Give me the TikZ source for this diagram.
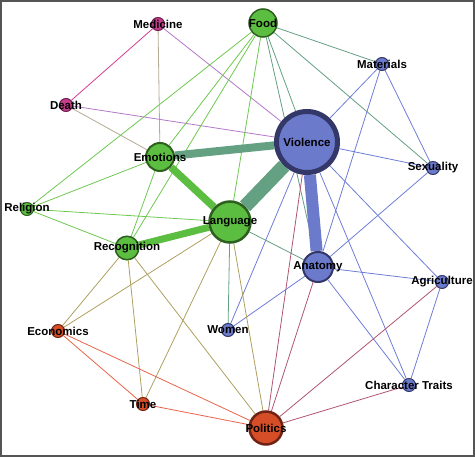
\documentclass[tikz,border=0pt]{standalone}
\usepackage{fontspec}
\setmainfont{Liberation Sans}
\usepackage{tikz}
\usetikzlibrary{backgrounds}
\definecolor{mygreen}{RGB}{92,190,64}
\definecolor{mygreendk}{RGB}{45,95,30}
\definecolor{myblue}{RGB}{108,122,204}
\definecolor{mybluedk}{RGB}{52,56,104}
\definecolor{myred}{RGB}{214,78,40}
\definecolor{myreddk}{RGB}{110,35,20}
\definecolor{mymag}{RGB}{196,62,140}
\definecolor{mymagdk}{RGB}{110,30,80}
\definecolor{myframe}{RGB}{85,85,85}
\definecolor{lngreen}{RGB}{110,200,80}
\definecolor{lnteal}{RGB}{100,160,130}
\definecolor{lnblue}{RGB}{110,125,215}
\definecolor{lntan}{RGB}{175,160,95}
\definecolor{lnred}{RGB}{232,100,75}
\definecolor{lnmaroon}{RGB}{175,85,110}
\definecolor{lnpurple}{RGB}{180,120,200}
\definecolor{lngray}{RGB}{180,170,150}
\definecolor{lnmag}{RGB}{215,60,145}
\tikzset{
  topic/.style={circle, inner sep=0pt, line width=1pt, minimum size=13pt},
  lbl/.style={font=\fontsize{11.5}{12}\selectfont\bfseries, text=black, inner sep=0pt},
  greennode/.style={topic, draw=mygreendk, fill=mygreen},
  bluenode/.style={topic, draw=mybluedk, fill=myblue},
  rednode/.style={topic, draw=myreddk, fill=myred},
  magnode/.style={topic, draw=mymagdk, fill=mymag},
  edge/.style={line width=0.8pt},
  greenedge/.style={edge, color=lngreen},
  tealedge/.style={edge, color=lnteal},
  blueedge/.style={edge, color=lnblue},
  tanedge/.style={edge, color=lntan},
  rededge/.style={edge, color=lnred},
  maroonedge/.style={edge, color=lnmaroon},
  purpleedge/.style={edge, color=lnpurple},
  grayedge/.style={edge, color=lngray},
  magedge/.style={edge, color=lnmag}
}
\begin{document}
\begin{tikzpicture}[x=1pt, y=-1pt]
  \useasboundingbox (0,0) rectangle (475,457);

  % Topic nodes
  \node[magnode, label={[lbl]center:Medicine}] (medicine) at (158,24) {};
  \node[magnode, label={[lbl]center:Death}] (death) at (66,105) {};
  \node[greennode, minimum size=28pt, line width=1.5pt, label={[lbl]center:Food}] (food) at (263,23) {};
  \node[bluenode, label={[lbl]center:Materials}] (materials) at (382,64) {};
  \node[greennode, minimum size=28pt, line width=2pt, label={[lbl]center:Emotions}] (emotions) at (160,157) {};
  \node[bluenode, minimum size=61pt, line width=5pt, label={[lbl]center:Violence}] (violence) at (307,142) {};
  \node[bluenode, label={[lbl]center:Sexuality}] (sexuality) at (433,168) {};
  \node[greennode, label={[lbl]center:Religion}] (religion) at (27,209) {};
  \node[greennode, minimum size=41pt, line width=2.5pt, label={[lbl]center:Language}] (language) at (230,222) {};
  \node[greennode, minimum size=23.5pt, line width=1.5pt, label={[lbl]center:Recognition}] (recognition) at (127,248) {};
  \node[bluenode, minimum size=30pt, line width=2pt, label={[lbl]center:Anatomy}] (anatomy) at (318,267) {};
  \node[bluenode, label={[lbl]center:Agriculture}] (agriculture) at (442,282) {};
  \node[rednode, label={[lbl]center:Economics}] (economics) at (58,331) {};
  \node[bluenode, label={[lbl]center:Women}] (women) at (228,330) {};
  \node[bluenode, label={[lbl]center:Character Traits}] (traits) at (409,385) {};
  \node[rednode, label={[lbl]center:Time}] (time) at (143,404) {};
  \node[rednode, minimum size=33pt, line width=2.5pt, label={[lbl]center:Politics}] (politics) at (266,428) {};

  \begin{scope}[on background layer]
    % Thin links
    \draw[magedge] (medicine) -- (death);
    \draw[grayedge] (medicine) -- (emotions);
    \draw[grayedge] (death) -- (emotions);
    \draw[purpleedge] (medicine) -- (violence);
    \draw[purpleedge] (death) -- (violence);
    \foreach \a/\b in {food/religion, food/emotions, food/recognition, food/language,
        religion/emotions, religion/language, religion/recognition, emotions/recognition}
      \draw[greenedge] (\a) -- (\b);
    \foreach \a/\b in {food/violence, food/anatomy, food/materials, food/sexuality,
        language/anatomy, language/women}
      \draw[tealedge] (\a) -- (\b);
    \foreach \a/\b in {violence/materials, violence/sexuality, violence/women,
        violence/agriculture, violence/traits, materials/sexuality, materials/anatomy,
        sexuality/anatomy, anatomy/women, anatomy/agriculture, anatomy/traits,
        agriculture/traits}
      \draw[blueedge] (\a) -- (\b);
    \foreach \a/\b in {recognition/economics, language/economics, recognition/time,
        language/time, recognition/politics, language/politics}
      \draw[tanedge] (\a) -- (\b);
    \foreach \a/\b in {economics/time, economics/politics, time/politics}
      \draw[rededge] (\a) -- (\b);
    \foreach \a/\b in {politics/violence, politics/anatomy, politics/agriculture, politics/traits}
      \draw[maroonedge] (\a) -- (\b);

    % Strong links
    \draw[color=lnteal, line width=8pt] (emotions) -- (violence);
    \draw[color=lnteal, line width=14pt] (language) -- (violence);
    \draw[color=mygreen, line width=7.5pt] (emotions) -- (language);
    \draw[color=mygreen, line width=7pt] (recognition) -- (language);
    \draw[color=myblue, line width=12pt] (violence) -- (anatomy);
  \end{scope}

  % Frame
  \draw[myframe, line width=1.5pt] (1,1) rectangle (474,456);
\end{tikzpicture}
\end{document}
